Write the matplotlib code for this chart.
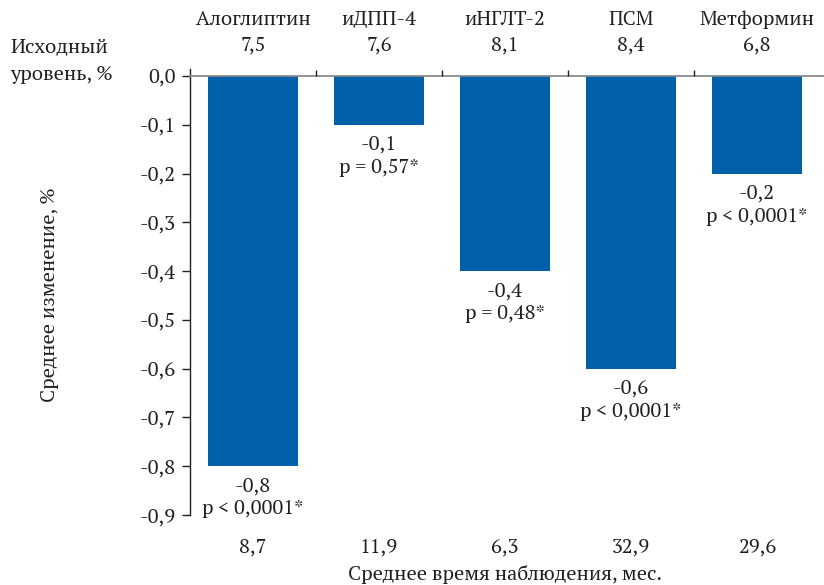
import matplotlib
matplotlib.use("Agg")
import matplotlib.pyplot as plt
import matplotlib.transforms as mtransforms

categories = ["Алоглиптин", "иДПП-4", "иНГЛТ-2", "ПСМ", "Метформин"]
baseline = ["7,5", "7,6", "8,1", "8,4", "6,8"]
changes = [-0.8, -0.1, -0.4, -0.6, -0.2]
change_labels = ["-0,8", "-0,1", "-0,4", "-0,6", "-0,2"]
p_labels = ["p < 0,0001*", "p = 0,57*", "p = 0,48*", "p < 0,0001*", "p < 0,0001*"]
followup = ["8,7", "11,9", "6,3", "32,9", "29,6"]
yticks = [0.0, -0.1, -0.2, -0.3, -0.4, -0.5, -0.6, -0.7, -0.8, -0.9]
ytick_labels = ["0,0", "-0,1", "-0,2", "-0,3", "-0,4", "-0,5", "-0,6", "-0,7", "-0,8", "-0,9"]

plt.rcParams['font.family'] = ['PT Serif', 'Liberation Serif', 'DejaVu Serif']
TXT = "#231F20"
BLUE = "#0060A9"
FS = 14.6

fig = plt.figure(figsize=(8.24, 5.85), dpi=100)
W, H = 824, 585
left, right, top, bottom = 190, 820, 69, 515
ax = fig.add_axes([left / W, 1 - bottom / H, (right - left) / W, (bottom - top) / H])

x = list(range(len(categories)))
ax.bar(x, changes, width=0.72, color=BLUE, zorder=2)
ax.set_xlim(-0.5, len(categories) - 0.5)
ax.set_ylim(-0.9, 0.0143)

for s in ["top", "right", "bottom"]:
    ax.spines[s].set_visible(False)
ax.spines["left"].set_color(TXT)
ax.spines["left"].set_linewidth(1.0)
ax.spines["left"].set_bounds(-0.9, 0.0143)

ax.set_xticks([])
ax.set_yticks(yticks)
ax.set_yticklabels(ytick_labels, fontsize=FS, color=TXT)
ax.tick_params(axis="y", length=6, width=1.0, color=TXT, pad=4)
ax.yaxis.get_major_ticks()[0].tick1line.set_color("#8a8a8a")

# zero line
ax.axhline(0, xmin=0, xmax=1.004, color="#8a8a8a", lw=1.3, zorder=3, clip_on=False)
# category separator ticks above zero line
ax.vlines([i + 0.5 for i in range(len(categories) - 1)], 0, 0.012, color=TXT, lw=1.0, zorder=3)

blend = mtransforms.blended_transform_factory(ax.transData, ax.transAxes)
for i in x:
    ax.text(i, (bottom - 20) / (bottom - top), categories[i], transform=blend,
            ha="center", va="center", fontsize=FS, color=TXT)
    ax.text(i, (bottom - 45) / (bottom - top), baseline[i], transform=blend,
            ha="center", va="center", fontsize=FS, color=TXT)
    ax.text(i, (bottom - 548) / (bottom - top), followup[i], transform=blend,
            ha="center", va="center", fontsize=FS, color=TXT)
    ax.annotate(change_labels[i], (i, changes[i]), xytext=(0, -14.5), textcoords="offset points",
                ha="center", va="center", fontsize=FS, color=TXT)
    ax.annotate(p_labels[i], (i, changes[i]), xytext=(0, -31), textcoords="offset points",
                ha="center", va="center", fontsize=FS, color=TXT)

fig.text(10 / W, 1 - 48 / H, "Исходный", ha="left", va="center", fontsize=FS, color=TXT)
fig.text(10 / W, 1 - 75 / H, "уровень, %", ha="left", va="center", fontsize=FS, color=TXT)
fig.text(50 / W, 1 - 295 / H, "Среднее изменение, %", rotation=90, ha="center", va="center",
         fontsize=FS, color=TXT)
fig.text(505 / W, 1 - 575 / H, "Среднее время наблюдения, мес.", ha="center", va="center",
         fontsize=FS, color=TXT)

fig.savefig("out.png", dpi=100)
